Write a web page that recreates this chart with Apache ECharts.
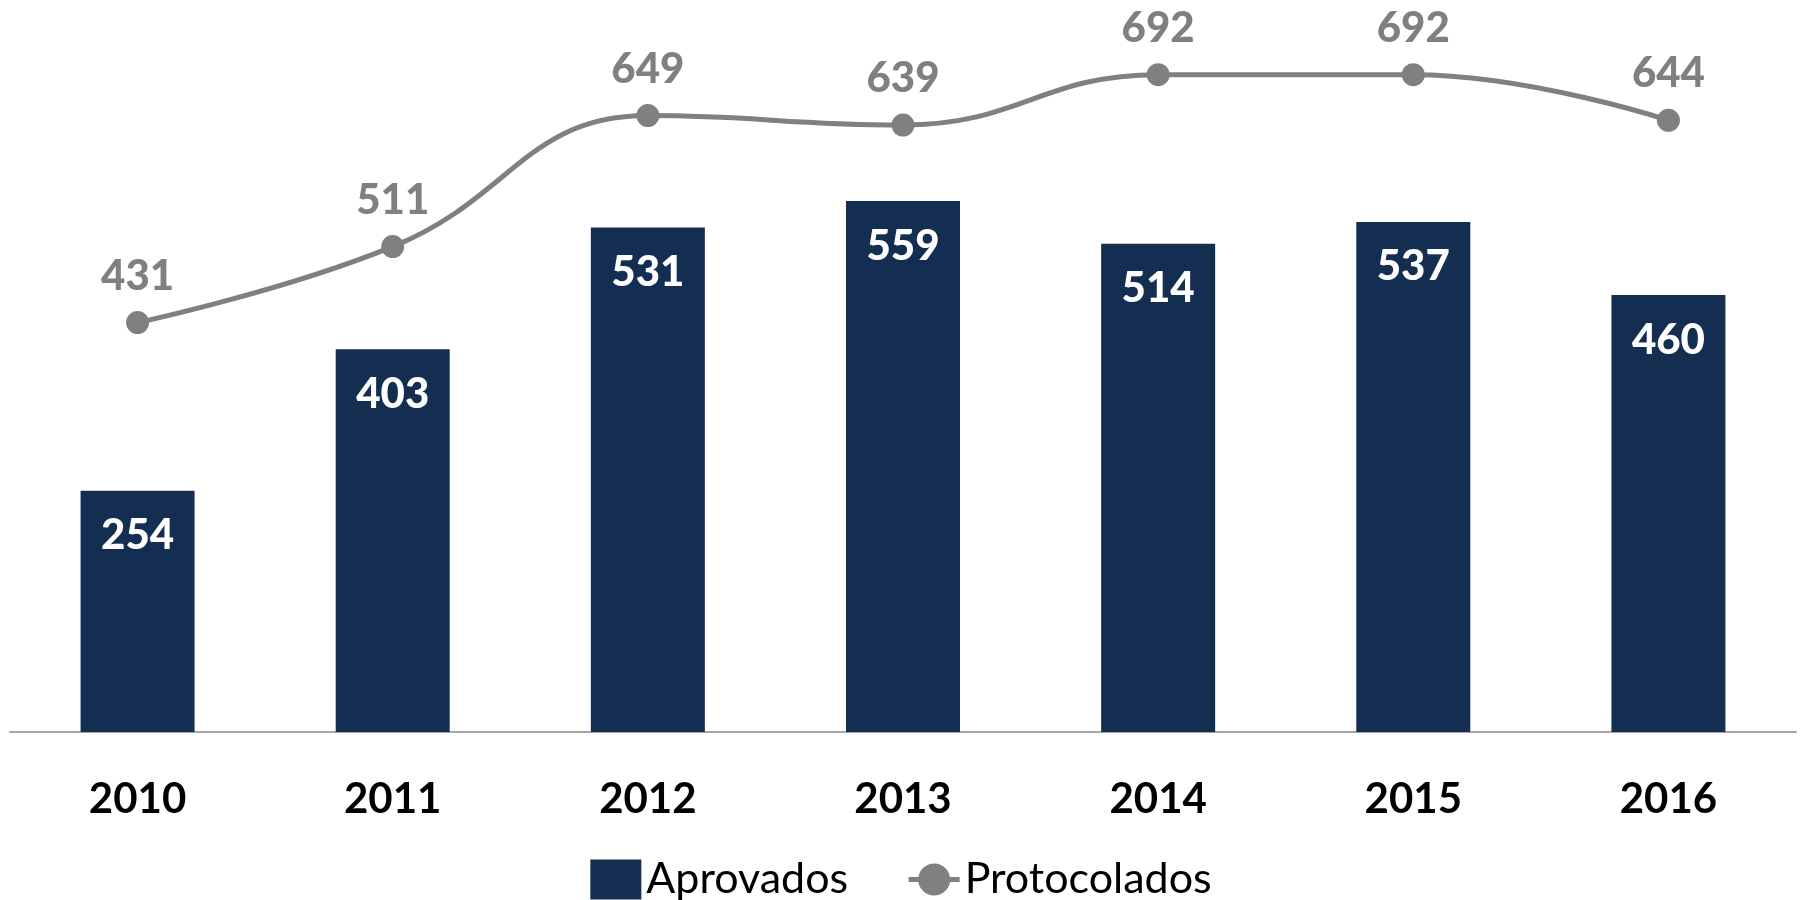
<!DOCTYPE html>
<html><head><meta charset="utf-8">
<script src="https://cdn.jsdelivr.net/npm/echarts@6/dist/echarts.min.js"></script>
<style>html,body{margin:0;padding:0;background:#fff}#c{width:1802px;height:900px}</style>
</head><body><div id="c"></div>
<script>
const categories = ['2010','2011','2012','2013','2014','2015','2016'];
const aprovados = [254, 403, 531, 559, 514, 537, 460];
const protocolados = [431, 511, 649, 639, 692, 692, 644];

const chart = echarts.init(document.getElementById('c'));
chart.setOption({
  animation: false,
  backgroundColor: '#ffffff',
  textStyle: { fontFamily: 'Lato' },
  grid: { left: 10, right: 6, top: 12, bottom: 168 },
  legend: {
    left: 'center', top: 853,
    itemWidth: 51, itemHeight: 40, itemGap: 58,
    textStyle: { fontFamily: 'Lato', fontSize: 43, color: '#000' },
    data: [
      { name: 'Aprovados', icon: 'rect' },
      { name: 'Protocolados', lineStyle: { width: 5, color: '#808080' } }
    ]
  },
  xAxis: {
    type: 'category', data: categories, boundaryGap: true,
    axisLine: { lineStyle: { color: '#a6a6a6', width: 2 } },
    axisTick: { show: false },
    axisLabel: { fontFamily: 'Lato', fontWeight: 'bold', fontSize: 42, color: '#000', margin: 46 }
  },
  yAxis: { type: 'value', min: 0, max: 758, show: false, splitLine: { show: false } },
  series: [
    {
      name: 'Aprovados', type: 'bar', data: aprovados, barWidth: 114,
      itemStyle: { color: '#132e51' },
      label: { show: true, position: 'insideTop', distance: 24, color: '#fff',
               fontFamily: 'Lato', fontWeight: 900, fontSize: 42 }
    },
    {
      name: 'Protocolados', type: 'line', data: protocolados, smooth: 0.45,
      symbol: 'circle', symbolSize: 23,
      lineStyle: { color: '#808080', width: 5 },
      itemStyle: { color: '#808080' },
      label: { show: true, position: 'top', distance: 14, color: '#808080',
               fontFamily: 'Lato', fontWeight: 900, fontSize: 42 }
    }
  ]
});
</script></body></html>
